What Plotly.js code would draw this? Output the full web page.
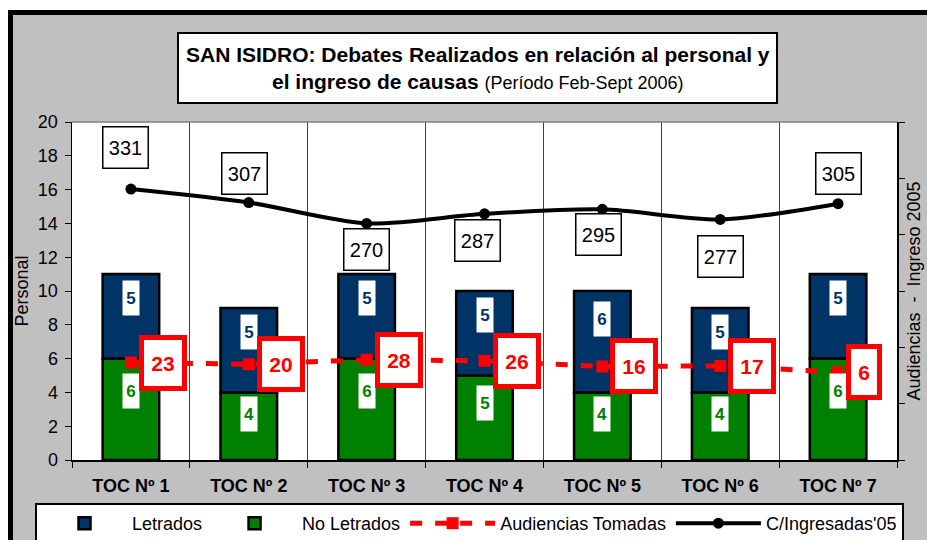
<!DOCTYPE html>
<html>
<head>
<meta charset="utf-8">
<script src="https://cdn.plot.ly/plotly-3.0.1.min.js"></script>
<style>html,body{margin:0;padding:0;background:#fff;}#chart{width:927px;height:540px;}</style>
</head>
<body>
<div id="chart"></div>
<script>
// ---- data ----
const categories = ["TOC Nº 1","TOC Nº 2","TOC Nº 3","TOC Nº 4","TOC Nº 5","TOC Nº 6","TOC Nº 7"];
const letrados = [5, 5, 5, 5, 6, 5, 5];
const noLetrados = [6, 4, 6, 5, 4, 4, 6];
const audiencias = [23, 20, 28, 26, 16, 17, 6];
const ingresadas = [331, 307, 270, 287, 295, 277, 305];

// label placement (style only)
const ingLabelShiftY = [42, 29, -26, -27, -25, -37, 30];
const ingLabelShiftX = [-5, -4, 0, -7, -4, 0, 0];

const FONT = "Arial, 'Liberation Sans', sans-serif";
const NAVY = "#003366", GREEN = "#008000", RED = "#FF0000";

// plot area in pixels: x 72..897, y 122..460
const L = 72, R = 897, T = 122, B = 460;
const px = x => (x - L) / (R - L);
const py = y => (B - y) / (B - T);

const trLetrados = {type:"bar", name:"Letrados", x:categories, y:letrados, base:noLetrados,
   marker:{color:NAVY, line:{color:"#000", width:2.5}}, hoverinfo:"skip"};
const trNoLetrados = {type:"bar", name:"No Letrados", x:categories, y:noLetrados,
   marker:{color:GREEN, line:{color:"#000", width:2.5}}, hoverinfo:"skip"};
const trAud = {type:"scatter", mode:"lines+markers", name:"Audiencias Tomadas", x:categories, y:audiencias, yaxis:"y2",
   line:{color:RED, width:5, dash:"12px,13px"}, marker:{symbol:"square", size:12, color:RED}};
const trIng = {type:"scatter", mode:"lines+markers", name:"C/Ingresadas'05", x:categories, y:ingresadas, yaxis:"y2",
   line:{color:"#000", width:4, shape:"spline", smoothing:0.8}, marker:{symbol:"circle", size:11, color:"#000"}};
trLetrados.legendrank = 1; trNoLetrados.legendrank = 2; trAud.legendrank = 3; trIng.legendrank = 4;
const data = [trNoLetrados, trLetrados, trAud, trIng];

const annotations = [];
categories.forEach((c, i) => {
  annotations.push({x:c, y:noLetrados[i] + letrados[i]*0.72, xref:"x", yref:"y", text:"<b>"+letrados[i]+"</b>",
    showarrow:false, bgcolor:"#fff", width:16, height:34, borderpad:0,
    font:{family:FONT, size:17, color:NAVY}});
  annotations.push({x:c, y:noLetrados[i]*0.68, xref:"x", yref:"y", text:"<b>"+noLetrados[i]+"</b>",
    showarrow:false, bgcolor:"#fff", width:16, height:34, borderpad:0,
    font:{family:FONT, size:17, color:GREEN}});
  const audTxt = String(audiencias[i]);
  annotations.push({x:c, y:audiencias[i], xref:"x", yref:"y2", text:"<b>"+audTxt+"</b>",
    showarrow:false, xanchor:"left", xshift:8, bgcolor:"#fff", bordercolor:RED, borderwidth:5,
    width:14 + 12*audTxt.length, height:46, borderpad:0,
    font:{family:FONT, size:21, color:RED}});
  annotations.push({x:c, y:ingresadas[i], xref:"x", yref:"y2", text:String(ingresadas[i]),
    showarrow:false, xshift:ingLabelShiftX[i], yshift:ingLabelShiftY[i], bgcolor:"#fff", bordercolor:"#000", borderwidth:1.5,
    width:44, height:40, borderpad:0, font:{family:FONT, size:20, color:"#000"}});
});
// chart title
annotations.push({xref:"paper", yref:"paper", x:px(477.5), y:py(68), xanchor:"center", yanchor:"middle", showarrow:false,
  text:"<b>SAN ISIDRO: Debates Realizados en relación al personal y</b><br><b>el ingreso de causas</b> <span style='font-size:18px'>(Período Feb-Sept 2006)</span>",
  font:{family:FONT, size:21, color:"#000"}, align:"center"});

const shapes = [
  // white outside strips
  {type:"rect", xref:"paper", yref:"paper", x0:px(-5), x1:px(940), y0:py(-5), y1:py(12), fillcolor:"#fff", line:{width:0}, layer:"below"},
  {type:"rect", xref:"paper", yref:"paper", x0:px(-5), x1:px(10), y0:py(-5), y1:py(560), fillcolor:"#fff", line:{width:0}, layer:"below"},
  // black border top and left
  {type:"line", xref:"paper", yref:"paper", x0:px(8), x1:px(940), y0:py(12.5), y1:py(12.5), line:{color:"#000", width:5}, layer:"below"},
  {type:"line", xref:"paper", yref:"paper", x0:px(10.5), x1:px(10.5), y0:py(10), y1:py(560), line:{color:"#000", width:5}, layer:"below"},
  // plot area top border (gray)
  {type:"line", xref:"paper", yref:"paper", x0:0, x1:1, y0:1, y1:1, line:{color:"#808080", width:1.5}},
  // title box
  {type:"rect", xref:"paper", yref:"paper", x0:px(178), x1:px(777), y0:py(103), y1:py(33), fillcolor:"#fff", line:{color:"#000", width:2}, layer:"below"}
];

const layout = {
  width:927, height:540,
  margin:{l:L, r:927-R, t:T, b:540-B, pad:0, autoexpand:false},
  paper_bgcolor:"#c0c0c0", plot_bgcolor:"#fff",
  font:{family:FONT, size:16, color:"#000"},
  barmode:"overlay", bargap:0.52,
  showlegend:true,
  legend:{orientation:"h", x:px(35), y:py(503), xanchor:"left", yanchor:"top",
    bgcolor:"#fff", bordercolor:"#000", borderwidth:2, font:{family:FONT, size:18, color:"#000"},
    traceorder:"normal", itemwidth:85},
  xaxis:{type:"category", tickson:"boundaries", showgrid:true, gridcolor:"#404040", gridwidth:1,
    showline:true, linecolor:"#000", linewidth:1.5, ticks:"outside", ticklen:6, tickcolor:"#000",
    tickfont:{family:FONT, size:18, color:"#000", weight:"bold"}, ticklabelstandoff:9, zeroline:false, fixedrange:true},
  yaxis:{range:[0,20], dtick:2, tick0:0, showgrid:false, zeroline:false, showline:true, linecolor:"#000", linewidth:1.5,
    ticks:"outside", ticklen:6, tickcolor:"#000", tickfont:{family:FONT, size:18, color:"#000"}, ticklabelstandoff:3,
    title:{text:"Personal", font:{family:FONT, size:18, color:"#000"}, standoff:4}},
  yaxis2:{overlaying:"y", side:"right", range:[-150,450], dtick:100, tick0:-150, showgrid:false, zeroline:false,
    showline:true, linecolor:"#000", linewidth:1.5, ticks:"outside", ticklen:6, tickcolor:"#000", showticklabels:false,
    title:{text:"Audiencias  -  Ingreso 2005", font:{family:FONT, size:18, color:"#000"}, standoff:4}},
  annotations:annotations, shapes:shapes
};

Plotly.newPlot("chart", data, layout, {displayModeBar:false, staticPlot:true});
</script>
</body>
</html>
